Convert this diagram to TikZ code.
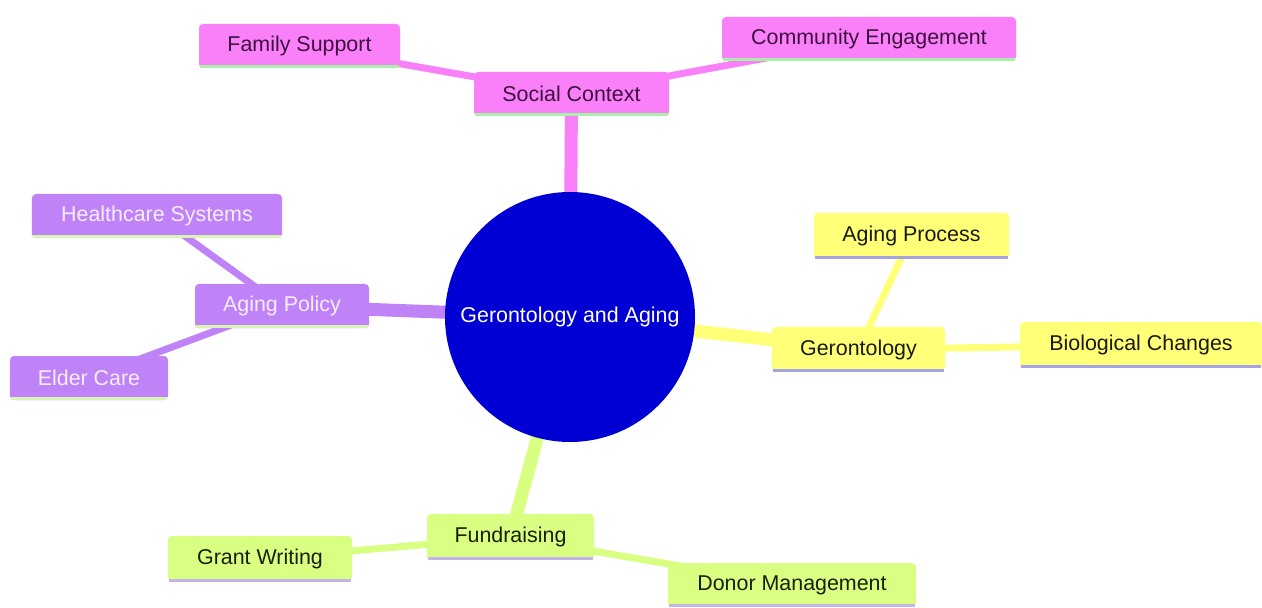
\documentclass[tikz,border=0pt]{standalone}
\usepackage{fontspec}
\setmainfont{Liberation Sans}
\usetikzlibrary{backgrounds}
\definecolor{pinkc}{HTML}{FA80FA}
\definecolor{purpc}{HTML}{BF82F7}
\definecolor{yelc}{HTML}{FFFF78}
\definecolor{grnc}{HTML}{D9FF82}
\definecolor{bluec}{HTML}{0000D4}
\definecolor{pinkline}{HTML}{A8F0A8}
\definecolor{purpline}{HTML}{D6F5B4}
\definecolor{yelline}{HTML}{A4A4E4}
\definecolor{grnline}{HTML}{C4B4EA}
\definecolor{pinktext}{HTML}{3F103F}
\definecolor{purptext}{HTML}{F6EEFF}
\definecolor{yeltext}{HTML}{1A1A10}
\definecolor{grntext}{HTML}{18200A}
\tikzset{
  box/.style={rectangle, rounded corners=4bp, inner sep=0pt, minimum height=44bp,
    font=\fontsize{21.5}{24}\selectfont},
  pinkbox/.style={box, fill=pinkc, text=pinktext},
  purpbox/.style={box, fill=purpc, text=purptext},
  yelbox/.style={box, fill=yelc, text=yeltext},
  grnbox/.style={box, fill=grnc, text=grntext},
  rootedge/.style={line width=13bp},
  subedge/.style={line width=7bp},
  uline/.style={line width=3bp},
}
\newcommand{\uline}[2]{\draw[uline, #2] ([xshift=1bp,yshift=1.5bp]#1.south west) -- ([xshift=-1bp,yshift=1.5bp]#1.south east);}
\begin{document}
\begin{tikzpicture}[x=1bp,y=-1bp]
\useasboundingbox (0,0) rectangle (1262,608);
% nodes
\node[circle, fill=bluec, minimum size=250bp, inner sep=0pt, text=white,
  font=\fontsize{21.5}{24}\selectfont] (root) at (570,317) {Gerontology and Aging};
\node[pinkbox, minimum width=195bp] (soc) at (571.5,94) {Social Context};
\node[pinkbox, minimum width=201bp] (fam) at (299.5,46) {Family Support};
\node[pinkbox, minimum width=294bp] (com) at (869,39) {Community Engagement};
\node[purpbox, minimum width=174bp] (pol) at (282,306) {Aging Policy};
\node[purpbox, minimum width=250bp] (hea) at (157,216) {Healthcare Systems};
\node[purpbox, minimum width=158bp] (eld) at (89,378) {Elder Care};
\node[yelbox, minimum width=173bp, minimum height=45bp] (ger) at (858.5,349.5) {Gerontology};
\node[yelbox, minimum width=195bp, minimum height=46bp] (agp) at (911.5,236) {Aging Process};
\node[yelbox, minimum width=242bp, minimum height=46bp] (bio) at (1141,345) {Biological Changes};
\node[grnbox, minimum width=167bp, minimum height=46bp] (fun) at (510.5,537) {Fundraising};
\node[grnbox, minimum width=184bp, minimum height=46bp] (gra) at (260,559) {Grant Writing};
\node[grnbox, minimum width=248bp] (don) at (792,585) {Donor Management};
% underlines
\uline{soc}{pinkline}
\uline{fam}{pinkline}
\uline{com}{pinkline}
\uline{pol}{purpline}
\uline{hea}{purpline}
\uline{eld}{purpline}
\uline{ger}{yelline}
\uline{agp}{yelline}
\uline{bio}{yelline}
\uline{fun}{grnline}
\uline{gra}{grnline}
\uline{don}{grnline}
% edges behind nodes
\begin{scope}[on background layer]
\draw[rootedge, pinkc] (root.center) -- (soc.center);
\draw[rootedge, purpc] (root.center) -- (pol.center);
\draw[rootedge, yelc] (root.center) -- (ger.center);
\draw[rootedge, grnc] (root.center) -- (fun.center);
\draw[subedge, pinkc] (soc.center) -- (fam.center);
\draw[subedge, pinkc] (soc.center) -- (com.center);
\draw[subedge, purpc] (pol.center) -- (hea.center);
\draw[subedge, purpc] (pol.center) -- (eld.center);
\draw[subedge, yelc] (ger.center) -- (agp.center);
\draw[subedge, yelc] (ger.center) -- (bio.center);
\draw[subedge, grnc] (fun.center) -- (gra.center);
\draw[subedge, grnc] (fun.center) -- (don.center);
\end{scope}
\end{tikzpicture}
\end{document}
